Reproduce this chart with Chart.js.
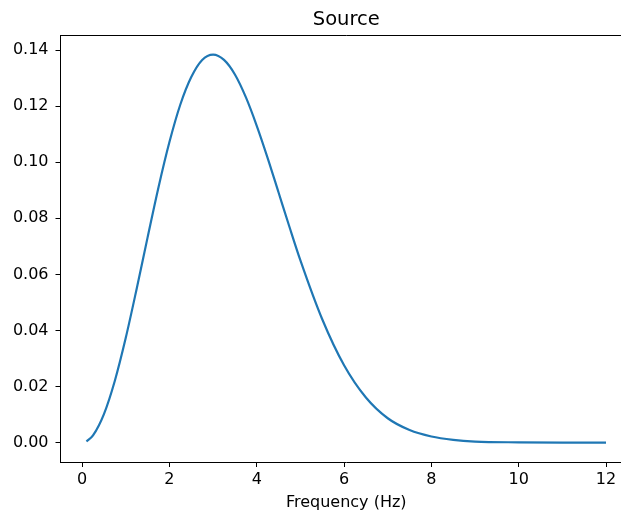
<!DOCTYPE html>
<html>
<head>
<meta charset="utf-8">
<script src="https://cdn.jsdelivr.net/npm/chart.js@4/dist/chart.umd.min.js"></script>
<style>
  html, body { margin: 0; padding: 0; background: #fff; overflow: hidden; }
  #wrap { width: 621px; height: 515px; overflow: hidden; }
</style>
</head>
<body>
<div id="wrap"><canvas id="sourceChart" width="650" height="515"></canvas></div>
<script>
// frequency (Hz) and amplitude
var freqs = [0.1, 0.25, 0.5, 0.75, 1.0, 1.25, 1.5, 1.75, 2.0, 2.25, 2.5, 2.75, 3.0,
  3.25, 3.5, 3.75, 4.0, 4.25, 4.5, 4.75, 5.0, 5.5, 6.0, 6.5, 7.0, 7.5, 8.0, 8.5,
  9.0, 10.0, 11.0, 12.0];
var amps = [0.0004, 0.0026, 0.0102, 0.0221, 0.0374, 0.0549, 0.0732, 0.0911, 0.1072,
  0.1206, 0.1304, 0.1365, 0.1384, 0.1365, 0.1313, 0.1232, 0.1130, 0.1015, 0.0892,
  0.0769, 0.0650, 0.0440, 0.0276, 0.0161, 0.0087, 0.0045, 0.0022, 0.0010, 0.0004,
  0.0001, 0.0, 0.0];
var xTicks = [0, 2, 4, 6, 8, 10, 12];
var yTicks = [0, 0.02, 0.04, 0.06, 0.08, 0.10, 0.12, 0.14];
var titleText = "Source";

var font = "'DejaVu Sans', sans-serif";

// top/right spines and a title centred over the axes, like matplotlib
var frame = {
  id: "frame",
  afterDraw: function (chart) {
    var a = chart.chartArea, ctx = chart.ctx;
    ctx.save();
    ctx.strokeStyle = "#000";
    ctx.lineWidth = 1;
    ctx.beginPath();
    ctx.moveTo(a.left, a.top);
    ctx.lineTo(a.right, a.top);
    ctx.lineTo(a.right, a.bottom);
    ctx.stroke();
    ctx.fillStyle = "#000";
    ctx.font = "19.5px " + font;
    ctx.textAlign = "center";
    ctx.textBaseline = "middle";
    ctx.fillText(titleText, (a.left + a.right) / 2, 19.5);
    ctx.restore();
  }
};

new Chart(document.getElementById("sourceChart"), {
  type: "line",
  data: {
    datasets: [{
      data: freqs.map(function (f, i) { return { x: f, y: amps[i] }; }),
      borderColor: "#1f77b4",
      borderWidth: 2.2,
      pointRadius: 0,
      fill: false,
      cubicInterpolationMode: "monotone"
    }]
  },
  options: {
    responsive: false,
    animation: false,
    devicePixelRatio: 1,
    layout: { padding: { left: 0, right: 18, top: 35.5, bottom: 0 } },
    plugins: {
      legend: { display: false },
      tooltip: { enabled: false },
      title: { display: false }
    },
    scales: {
      x: {
        type: "linear",
        min: -0.495,
        max: 12.595,
        afterBuildTicks: function (s) { s.ticks = xTicks.map(function (v) { return { value: v }; }); },
        afterFit: function (s) { s.height = 53; },
        grid: { drawOnChartArea: false, drawTicks: true, tickLength: 5, color: "#000" },
        border: { display: true, color: "#000", width: 1 },
        ticks: { color: "#000", font: { family: font, size: 16 }, padding: 3, maxRotation: 0 },
        title: {
          display: true,
          text: "Frequency (Hz)",
          color: "#000",
          font: { family: font, size: 16 },
          padding: { top: 0, bottom: 3 }
        }
      },
      y: {
        min: -0.0069,
        max: 0.1452,
        afterBuildTicks: function (s) { s.ticks = yTicks.map(function (v) { return { value: v }; }); },
        afterFit: function (s) { s.width = 60.5; },
        grid: { drawOnChartArea: false, drawTicks: true, tickLength: 5, color: "#000" },
        border: { display: true, color: "#000", width: 1 },
        ticks: {
          color: "#000",
          font: { family: font, size: 16 },
          padding: 7,
          callback: function (v) { return v.toFixed(2); }
        }
      }
    }
  },
  plugins: [frame]
});
</script>
</body>
</html>
